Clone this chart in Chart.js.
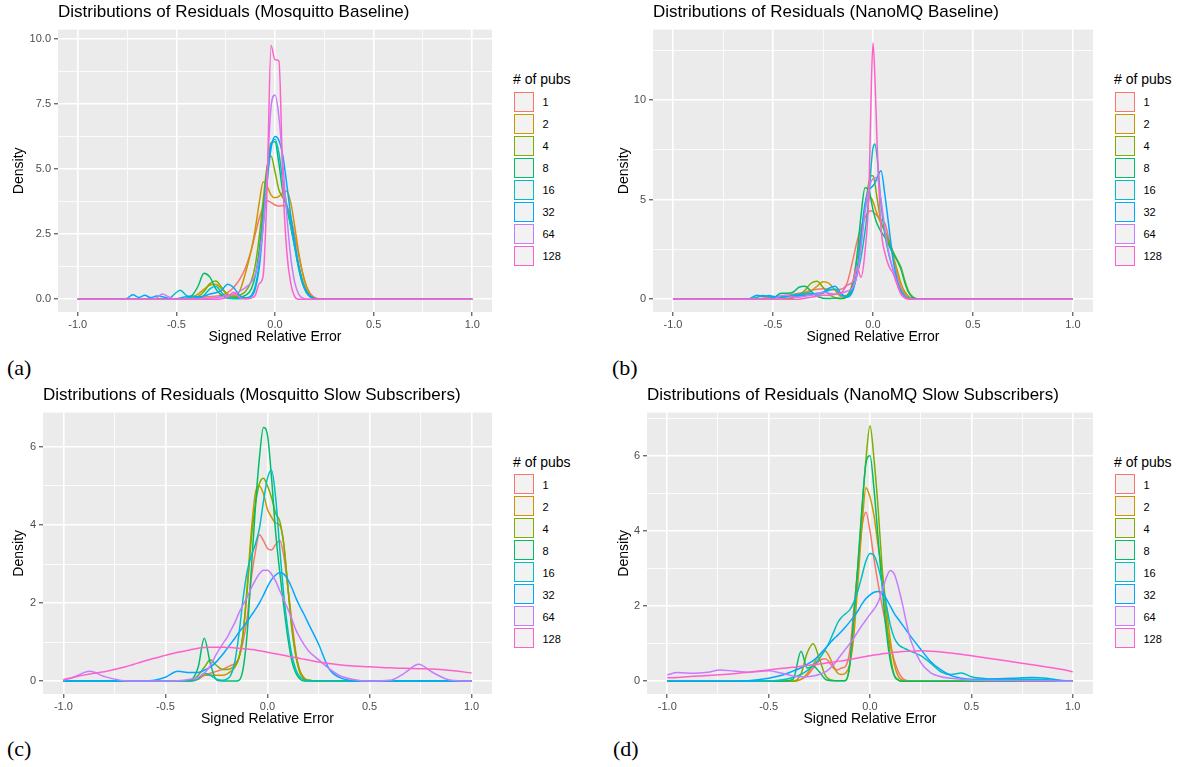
<!DOCTYPE html>
<html>
<head>
<meta charset="utf-8">
<script src="https://cdn.jsdelivr.net/npm/chart.js@4.4.1/dist/chart.umd.min.js"></script>
<style>
  body { margin: 0; background: #fff; font-family: "Liberation Sans", Arial, sans-serif; }
  #page { position: relative; width: 1180px; height: 767px; overflow: hidden; }
  canvas { position: absolute; }
  .ptitle { position: absolute; font-size: 17px; line-height: 20px; color: #000; white-space: nowrap; }
  .ltitle { position: absolute; font-size: 14px; line-height: 16px; color: #000; white-space: nowrap; }
  .key { position: absolute; width: 18px; height: 18px; background: #F2F2F2; border-style: solid; border-width: 1.5px; }
  .klabel { position: absolute; font-size: 11px; line-height: 14px; color: #000; }
  .tag { position: absolute; font-family: "Liberation Serif", "Times New Roman", serif; font-size: 22px; line-height: 26px; color: #000; }
</style>
</head>
<body>
<div id="page"></div>
<script>
// legend entries and ggplot hue colours
const PUBS = ['1', '2', '4', '8', '16', '32', '64', '128'];
const COLORS = ['#F8766D', '#CD9600', '#7CAE00', '#00BE67', '#00BFC4', '#00A9FF', '#C77CFF', '#FF61CC'];

// (a) Mosquitto Baseline
const XA = [-1, -0.76, -0.72, -0.69, -0.66, -0.63, -0.6, -0.57, -0.54, -0.51, -0.48, -0.45, -0.42, -0.39, -0.36, -0.33, -0.3, -0.27, -0.24, -0.21, -0.18, -0.15,
  -0.12, -0.1, -0.08, -0.06, -0.04, -0.02, 0, 0.02, 0.04, 0.06, 0.08, 0.1, 0.12, 0.14, 0.16, 0.18, 0.2, 0.22, 0.25, 1];
const A1 = [0, 0, 0, 0, 0, 0, 0, 0, 0, 0, 0, 0, 0.02, 0.05, 0.08, 0.1, 0.12, 0.15, 0.25, 0.45, 0.75, 1.2,
  1.9, 2.5, 3.1, 3.55, 3.78, 3.72, 3.62, 3.58, 3.6, 3.55, 3.15, 2.45, 1.7, 1.0, 0.5, 0.2, 0.07, 0.02, 0, 0];
const A2 = [0, 0, 0, 0, 0, 0, 0, 0, 0, 0, 0, 0.02, 0.08, 0.2, 0.38, 0.55, 0.58, 0.4, 0.2, 0.15, 0.3, 1.0,
  1.9, 2.7, 3.7, 4.5, 4.35, 4.0, 3.9, 3.95, 4.1, 4.15, 3.7, 2.8, 1.8, 1.0, 0.45, 0.15, 0.05, 0.01, 0, 0];
const A4 = [0, 0, 0, 0, 0, 0, 0, 0, 0, 0, 0, 0, 0, 0.1, 0.3, 0.6, 0.7, 0.45, 0.15, 0.1, 0.15, 0.3,
  0.7, 1.3, 2.4, 3.8, 5.1, 5.5, 4.9, 4.2, 3.9, 3.6, 2.9, 2.1, 1.3, 0.7, 0.3, 0.1, 0.03, 0, 0, 0];
const A8 = [0, 0, 0, 0, 0, 0, 0, 0, 0, 0, 0, 0.02, 0.15, 0.5, 1.0, 0.85, 0.4, 0.15, 0.05, 0.05, 0.08, 0.15,
  0.4, 0.9, 1.9, 3.4, 5.0, 6.0, 6.05, 5.2, 4.1, 3.5, 2.8, 2.0, 1.2, 0.6, 0.25, 0.08, 0.02, 0, 0, 0];
const A16 = [0, 0, 0, 0, 0, 0, 0, 0, 0, 0.2, 0.35, 0.15, 0.05, 0.05, 0.15, 0.4, 0.5, 0.25, 0.05, 0.02, 0.02, 0.05,
  0.15, 0.5, 1.4, 3.0, 4.7, 5.9, 6.15, 5.6, 4.5, 3.6, 2.8, 2.0, 1.2, 0.6, 0.25, 0.1, 0.03, 0, 0, 0];
const A32 = [0, 0, 0.17, 0.07, 0.15, 0.06, 0.12, 0.1, 0.03, 0.02, 0.05, 0.1, 0.12, 0.1, 0.12, 0.2, 0.25, 0.35, 0.58, 0.45, 0.15, 0.05,
  0.1, 0.4, 1.2, 2.8, 4.5, 5.8, 6.25, 6.1, 5.5, 4.4, 3.2, 2.2, 1.3, 0.65, 0.28, 0.1, 0.03, 0.01, 0, 0];
const A64 = [0, 0, 0, 0, 0, 0, 0.05, 0.2, 0.1, 0, 0, 0, 0, 0, 0.02, 0.04, 0.06, 0.1, 0.15, 0.2, 0.3, 0.45,
  0.65, 0.95, 1.6, 2.8, 4.8, 7.4, 7.85, 7.0, 5.2, 3.2, 1.6, 0.65, 0.2, 0.05, 0, 0, 0, 0, 0, 0];
const A128 = [0, 0, 0, 0, 0, 0, 0, 0, 0, 0, 0, 0, 0, 0, 0, 0, 0, 0.02, 0.08, 0.27, 0.06, 0.01,
  0.05, 0.15, 0.6, 0.9, 4.3, 9.75, 9.2, 9.15, 4.5, 1.8, 0.6, 0.1, 0, 0, 0, 0, 0, 0, 0, 0];

// (b) NanoMQ Baseline
const XB = [-1, -0.62, -0.58, -0.55, -0.52, -0.49, -0.46, -0.43, -0.4, -0.37, -0.34, -0.31, -0.28, -0.25, -0.22, -0.19, -0.16, -0.13,
  -0.1, -0.08, -0.06, -0.04, -0.02, -0.01, 0, 0.01, 0.02, 0.04, 0.06, 0.08, 0.1, 0.12, 0.14, 0.16, 0.18, 0.2, 0.22, 0.25, 1];
const B1 = [0, 0, 0.02, 0.05, 0.1, 0.12, 0.15, 0.2, 0.25, 0.3, 0.35, 0.45, 0.5, 0.52, 0.5, 0.48, 0.5, 0.8,
  2.0, 2.9, 3.6, 4.1, 4.4, 4.45, 4.4, 4.3, 4.2, 4.0, 3.8, 3.0, 2.2, 1.3, 0.6, 0.25, 0.08, 0.02, 0, 0, 0];
const B2 = [0, 0, 0, 0, 0, 0, 0, 0.03, 0.08, 0.15, 0.25, 0.4, 0.65, 0.88, 0.8, 0.45, 0.15, 0.2,
  0.9, 2.0, 3.3, 4.5, 5.1, 5.1, 4.9, 4.6, 4.3, 3.8, 3.4, 2.8, 2.2, 1.5, 0.8, 0.35, 0.12, 0.03, 0, 0, 0];
const B4 = [0, 0, 0, 0, 0, 0, 0, 0, 0.05, 0.2, 0.45, 0.8, 0.9, 0.6, 0.25, 0.08, 0.02, 0.1,
  0.5, 1.3, 2.8, 4.6, 5.9, 6.2, 6.2, 5.8, 5.1, 3.9, 3.4, 2.9, 2.4, 2.0, 1.6, 0.9, 0.35, 0.1, 0.02, 0, 0];
const B8 = [0, 0, 0, 0, 0, 0.1, 0.3, 0.3, 0.35, 0.6, 0.65, 0.4, 0.15, 0.05, 0.03, 0.05, 0.05, 0.15,
  0.8, 2.2, 4.2, 5.6, 5.5, 5.0, 4.5, 4.1, 3.8, 3.4, 3.1, 2.7, 2.3, 1.95, 1.5, 0.8, 0.3, 0.08, 0.02, 0, 0];
const B16 = [0, 0, 0.1, 0.18, 0.12, 0.08, 0.1, 0.15, 0.2, 0.25, 0.28, 0.3, 0.25, 0.3, 0.45, 0.5, 0.2, 0.15,
  0.6, 1.2, 2.1, 3.4, 5.2, 6.6, 7.6, 7.8, 7.2, 4.8, 3.2, 2.2, 1.5, 0.9, 0.45, 0.15, 0.05, 0.01, 0, 0, 0];
const B32 = [0, 0.02, 0.2, 0.15, 0.18, 0.12, 0.1, 0.12, 0.15, 0.2, 0.2, 0.22, 0.3, 0.35, 0.55, 0.65, 0.3, 0.1,
  0.45, 1.4, 3.2, 4.8, 5.5, 5.6, 5.7, 5.85, 6.1, 6.45, 5.2, 3.6, 2.0, 1.0, 0.35, 0.1, 0.02, 0, 0, 0, 0];
const B64 = [0, 0, 0, 0, 0, 0.02, 0.18, 0.2, 0.1, 0.1, 0.15, 0.2, 0.25, 0.35, 0.3, 0.25, 0.3, 0.4,
  0.6, 1.2, 2.6, 4.4, 5.6, 5.9, 6.05, 6.1, 6.1, 5.0, 3.5, 2.3, 1.5, 0.8, 0.3, 0.08, 0.02, 0, 0, 0, 0];
const B128 = [0, 0, 0, 0, 0, 0, 0, 0, 0, 0, 0.05, 0.1, 0.15, 0.2, 0.2, 0.25, 0.3, 0.7,
  0.9, 1.6, 1.1, 2.4, 5.5, 10.0, 12.9, 11.0, 8.0, 3.6, 2.3, 1.65, 1.3, 0.75, 0.25, 0.05, 0, 0, 0, 0, 0];

// (c) Mosquitto Slow Subscribers
const XC = [-1, -0.95, -0.87, -0.8, -0.7, -0.6, -0.5, -0.44, -0.38, -0.34, -0.31, -0.28, -0.25, -0.22, -0.2, -0.18, -0.16, -0.14,
  -0.12, -0.1, -0.08, -0.06, -0.04, -0.02, 0, 0.02, 0.04, 0.06, 0.08, 0.1, 0.12, 0.14, 0.16, 0.18, 0.2,
  0.25, 0.3, 0.35, 0.42, 0.5, 0.6, 0.67, 0.74, 0.81, 0.9, 1];
const C1 = [0, 0, 0, 0, 0, 0, 0, 0, 0, 0.05, 0.15, 0.2, 0.25, 0.3, 0.35, 0.4, 0.45, 0.6,
  1.0, 1.6, 2.6, 3.3, 3.75, 3.6, 3.4, 3.36, 3.5, 3.6, 3.2, 2.4, 1.5, 0.7, 0.22, 0.06, 0.02,
  0, 0, 0, 0, 0, 0, 0, 0, 0, 0, 0];
const C2 = [0, 0, 0, 0, 0, 0, 0, 0, 0, 0.05, 0.15, 0.15, 0.15, 0.15, 0.18, 0.25, 0.35, 0.6,
  1.2, 2.4, 3.8, 4.8, 5.0, 4.8, 4.4, 4.2, 4.05, 4.0, 3.5, 2.4, 1.4, 0.65, 0.25, 0.08, 0.02,
  0, 0, 0, 0, 0, 0, 0, 0, 0, 0, 0];
const C4 = [0, 0, 0, 0, 0, 0, 0, 0, 0, 0.15, 0.35, 0.55, 0.4, 0.3, 0.3, 0.32, 0.4, 0.6,
  1.2, 2.3, 3.6, 4.5, 5.05, 5.2, 5.0, 4.7, 4.3, 4.1, 3.5, 2.4, 1.3, 0.6, 0.2, 0.06, 0.02,
  0, 0, 0, 0, 0, 0, 0, 0, 0, 0, 0];
const C8 = [0, 0, 0, 0, 0, 0, 0, 0, 0.02, 0.35, 1.1, 0.45, 0.03, 0, 0, 0, 0, 0.02,
  0.3, 1.2, 2.8, 4.4, 5.7, 6.5, 6.3, 5.2, 3.8, 2.8, 1.9, 1.1, 0.5, 0.2, 0.05, 0, 0,
  0, 0, 0, 0, 0, 0, 0, 0, 0, 0, 0];
const C16 = [0, 0, 0, 0, 0, 0, 0, 0, 0, 0.05, 0.2, 0.15, 0.05, 0.02, 0.05, 0.15, 0.5, 1.2,
  2.1, 2.8, 3.2, 3.5, 3.9, 4.6, 5.2, 5.4, 4.7, 3.4, 2.2, 1.3, 0.65, 0.28, 0.1, 0.03, 0,
  0, 0, 0, 0, 0, 0, 0, 0, 0, 0, 0];
const C32 = [0, 0, 0, 0, 0, 0, 0.1, 0.25, 0.22, 0.22, 0.28, 0.36, 0.5, 0.68, 0.82, 0.96, 1.1, 1.25,
  1.38, 1.52, 1.68, 1.83, 2.0, 2.2, 2.42, 2.6, 2.72, 2.78, 2.74, 2.6, 2.38, 2.12, 1.9, 1.7, 1.48,
  0.95, 0.33, 0.1, 0.01, 0, 0, 0, 0, 0, 0, 0];
const C64 = [0.02, 0.1, 0.25, 0.12, 0.01, 0, 0, 0.01, 0.05, 0.1, 0.2, 0.4, 0.7, 0.95, 1.1, 1.3, 1.5, 1.75,
  1.95, 2.15, 2.38, 2.58, 2.75, 2.84, 2.84, 2.74, 2.56, 2.32, 2.08, 1.84, 1.58, 1.3, 1.1, 0.93, 0.78,
  0.55, 0.33, 0.15, 0.04, 0, 0.02, 0.2, 0.43, 0.22, 0.02, 0];
const C128 = [0.04, 0.1, 0.18, 0.24, 0.36, 0.52, 0.66, 0.74, 0.8, 0.84, 0.86, 0.87, 0.87, 0.87, 0.86, 0.86, 0.85, 0.84,
  0.83, 0.82, 0.81, 0.8, 0.78, 0.76, 0.74, 0.72, 0.7, 0.68, 0.66, 0.64, 0.62, 0.6, 0.58, 0.56, 0.54,
  0.49, 0.45, 0.42, 0.39, 0.37, 0.34, 0.33, 0.32, 0.31, 0.27, 0.21];

// (d) NanoMQ Slow Subscribers
const XD = [-1, -0.95, -0.87, -0.8, -0.74, -0.67, -0.6, -0.5, -0.44, -0.38, -0.34, -0.31, -0.28, -0.25, -0.22, -0.2, -0.18, -0.16, -0.14,
  -0.12, -0.1, -0.08, -0.06, -0.04, -0.02, 0, 0.02, 0.04, 0.06, 0.08, 0.1, 0.12, 0.14, 0.16, 0.18, 0.2,
  0.25, 0.3, 0.35, 0.4, 0.45, 0.5, 0.6, 0.7, 0.8, 0.87, 0.95, 1];
const D1 = [0, 0, 0, 0, 0, 0, 0, 0, 0, 0, 0.05, 0.15, 0.35, 0.55, 0.6, 0.5, 0.35, 0.3, 0.35,
  0.4, 0.8, 1.9, 3.0, 4.1, 4.5, 4.0, 3.25, 2.6, 2.0, 1.45, 0.95, 0.55, 0.25, 0.08, 0.02, 0,
  0, 0, 0, 0, 0, 0, 0, 0, 0, 0, 0, 0];
const D2 = [0, 0, 0, 0, 0, 0, 0, 0, 0, 0, 0.05, 0.2, 0.45, 0.7, 0.8, 0.65, 0.4, 0.22, 0.18,
  0.22, 0.45, 1.2, 2.6, 4.1, 5.15, 4.9, 4.4, 3.6, 2.9, 2.0, 1.1, 0.45, 0.12, 0.03, 0, 0,
  0, 0, 0, 0, 0, 0, 0, 0, 0, 0, 0, 0];
const D4 = [0, 0, 0, 0, 0, 0, 0, 0, 0, 0, 0.2, 0.75, 1.0, 0.6, 0.15, 0.05, 0.02, 0.01, 0.01,
  0.02, 0.4, 1.6, 3.0, 4.5, 5.9, 6.8, 5.9, 4.6, 3.0, 1.7, 0.7, 0.15, 0.03, 0, 0, 0,
  0, 0, 0, 0, 0, 0, 0, 0, 0, 0, 0, 0];
const D8 = [0, 0, 0, 0, 0, 0, 0, 0, 0, 0.05, 0.8, 0.35, 0.4, 0.25, 0.05, 0.02, 0.01, 0.01, 0.01,
  0.02, 0.45, 1.7, 3.1, 4.6, 5.8, 6.0, 5.1, 3.8, 2.5, 1.35, 0.55, 0.15, 0.03, 0, 0, 0,
  0, 0, 0, 0, 0, 0, 0, 0, 0, 0, 0, 0];
const D16 = [0, 0, 0, 0, 0, 0, 0, 0, 0.03, 0.1, 0.18, 0.28, 0.42, 0.6, 0.85, 1.05, 1.3, 1.55, 1.7,
  1.8, 1.9, 2.1, 2.4, 2.8, 3.2, 3.4, 3.35, 3.05, 2.6, 2.05, 1.5, 1.15, 0.98, 0.9, 0.85, 0.8,
  0.68, 0.48, 0.25, 0.18, 0.22, 0.12, 0.06, 0.05, 0.05, 0.04, 0.01, 0];
const D32 = [0, 0, 0, 0, 0, 0, 0.01, 0.08, 0.15, 0.27, 0.36, 0.45, 0.55, 0.7, 0.88, 1.0, 1.12, 1.22, 1.33,
  1.45, 1.58, 1.72, 1.87, 2.05, 2.2, 2.3, 2.37, 2.39, 2.35, 2.2, 2.0, 1.8, 1.65, 1.5, 1.35, 1.2,
  0.85, 0.52, 0.3, 0.15, 0.08, 0.05, 0.06, 0.08, 0.1, 0.08, 0.02, 0];
const D64 = [0.17, 0.23, 0.21, 0.24, 0.3, 0.27, 0.24, 0.28, 0.22, 0.14, 0.12, 0.12, 0.14, 0.18, 0.25, 0.33, 0.44, 0.58, 0.72,
  0.86, 1.0, 1.15, 1.32, 1.48, 1.63, 1.78, 1.92, 2.1, 2.4, 2.75, 2.95, 2.85, 2.5, 2.05, 1.55, 1.1,
  0.5, 0.22, 0.12, 0.08, 0.05, 0.03, 0.02, 0.02, 0.01, 0.01, 0, 0];
const D128 = [0.09, 0.1, 0.13, 0.15, 0.17, 0.2, 0.24, 0.3, 0.34, 0.37, 0.4, 0.42, 0.44, 0.46, 0.48, 0.5, 0.51, 0.53, 0.54,
  0.56, 0.58, 0.6, 0.62, 0.64, 0.66, 0.68, 0.7, 0.71, 0.73, 0.74, 0.76, 0.77, 0.78, 0.79, 0.8, 0.8,
  0.81, 0.8, 0.78, 0.75, 0.72, 0.68, 0.6, 0.52, 0.44, 0.38, 0.31, 0.25];

const FONT = '"Liberation Sans", Arial, sans-serif';
Chart.defaults.font.family = FONT;

// panel layout: L/R/T/B = grey plot area in page pixels, cx = canvas left
const panels = [
  { title: 'Distributions of Residuals (Mosquitto Baseline)', tag: '(a)', xs: XA, series: [A1, A2, A4, A8, A16, A32, A64, A128],
    cx: 0, L: 58, R: 492, T: 28, B: 312, yMin: -0.49, yMax: 10.36, yStep: 1.25, yMajor: 2.5, yDec: 1, densX: 19.5, tagX: 7, tagY: 368 },
  { title: 'Distributions of Residuals (NanoMQ Baseline)', tag: '(b)', xs: XB, series: [B1, B2, B4, B8, B16, B32, B64, B128],
    cx: 600, L: 653, R: 1093, T: 28, B: 312, yMin: -0.645, yMax: 13.55, yStep: 2.5, yMajor: 5, yDec: 0, densX: 624, tagX: 612, tagY: 368 },
  { title: 'Distributions of Residuals (Mosquitto Slow Subscribers)', tag: '(c)', xs: XC, series: [C1, C2, C4, C8, C16, C32, C64, C128],
    cx: 0, L: 43, R: 492, T: 411, B: 694, yMin: -0.33, yMax: 6.88, yStep: 1, yMajor: 2, yDec: 0, densX: 19.5, tagX: 7, tagY: 749 },
  { title: 'Distributions of Residuals (NanoMQ Slow Subscribers)', tag: '(d)', xs: XD, series: [D1, D2, D4, D8, D16, D32, D64, D128],
    cx: 600, L: 647, R: 1093, T: 411, B: 694, yMin: -0.34, yMax: 7.15, yStep: 1, yMajor: 2, yDec: 0, densX: 624, tagX: 613, tagY: 749 }
];

const page = document.getElementById('page');

function isMajor(v, major) {
  return Math.abs(v / major - Math.round(v / major)) < 1e-6;
}

function addDiv(cls, text, left, top, extra) {
  const d = document.createElement('div');
  d.className = cls;
  d.textContent = text;
  d.style.left = left + 'px';
  d.style.top = top + 'px';
  if (extra) Object.assign(d.style, extra);
  page.appendChild(d);
  return d;
}

// grey panel background, drawn under the grid
const panelBg = {
  id: 'panelBg',
  beforeDraw(chart) {
    const { ctx, chartArea: a } = chart;
    ctx.save();
    ctx.fillStyle = '#EBEBEB';
    ctx.fillRect(a.left, a.top, a.right - a.left, a.bottom - a.top);
    ctx.restore();
  }
};

panels.forEach(p => {
  const padTop = 8, padRight = 6, xAxisH = 40;
  const canvas = document.createElement('canvas');
  canvas.width = p.R + padRight - p.cx;
  canvas.height = p.B - p.T + padTop + xAxisH;
  canvas.style.left = p.cx + 'px';
  canvas.style.top = (p.T - padTop) + 'px';
  page.appendChild(canvas);

  new Chart(canvas, {
    type: 'line',
    data: {
      datasets: p.series.map((ys, i) => ({
        label: PUBS[i],
        data: p.xs.map((x, j) => ({ x: x, y: ys[j] })),
        borderColor: COLORS[i],
        borderWidth: 1.5,
        pointRadius: 0,
        fill: false,
        cubicInterpolationMode: 'monotone',
        order: PUBS.length - i
      }))
    },
    options: {
      responsive: false,
      animation: false,
      devicePixelRatio: 1,
      events: [],
      layout: { padding: { top: padTop, right: padRight, left: 0, bottom: 0 } },
      plugins: { legend: { display: false }, tooltip: { enabled: false }, title: { display: false } },
      scales: {
        x: {
          type: 'linear',
          min: -1.1,
          max: 1.1,
          ticks: {
            stepSize: 0.25, includeBounds: false, autoSkip: false, maxRotation: 0, padding: 2,
            color: '#4D4D4D', font: { size: 11 },
            callback: v => isMajor(v, 0.5) ? v.toFixed(1) : ''
          },
          grid: {
            color: '#FFFFFF',
            lineWidth: c => (c.tick && isMajor(c.tick.value, 0.5)) ? 1.6 : 0.8,
            tickColor: c => (c.tick && isMajor(c.tick.value, 0.5)) ? '#333333' : 'rgba(0,0,0,0)',
            tickLength: 4,
            tickWidth: 1
          },
          border: { display: false },
          title: { display: true, text: 'Signed Relative Error', color: '#000', font: { size: 14 }, padding: { top: 0, bottom: 6.5 } },
          afterFit: s => { s.height = xAxisH; }
        },
        y: {
          min: p.yMin,
          max: p.yMax,
          ticks: {
            stepSize: p.yStep, includeBounds: false, autoSkip: false, padding: 3,
            color: '#4D4D4D', font: { size: 11 },
            callback: v => isMajor(v, p.yMajor) ? v.toFixed(p.yDec) : ''
          },
          grid: {
            color: '#FFFFFF',
            lineWidth: c => (c.tick && isMajor(c.tick.value, p.yMajor)) ? 1.6 : 0.8,
            tickColor: c => (c.tick && isMajor(c.tick.value, p.yMajor)) ? '#333333' : 'rgba(0,0,0,0)',
            tickLength: 4,
            tickWidth: 1
          },
          border: { display: false },
          title: { display: true, text: 'Density', color: '#000', font: { size: 14 }, padding: { top: p.densX - p.cx - 8.4, bottom: 0 } },
          afterFit: s => { s.width = p.L - p.cx; }
        }
      }
    },
    plugins: [panelBg]
  });

  // plot title, aligned with the panel
  addDiv('ptitle', p.title, p.L, p.T - 26);

  // legend: "# of pubs" with outlined keys
  const lx = p.R + 21;
  const ly = (p.T + p.B) / 2 - 91;
  addDiv('ltitle', '# of pubs', lx, ly - 8);
  PUBS.forEach((lab, i) => {
    const top = ly + 12.7 + 22 * i;
    addDiv('key', '', lx + 0.5, top, { borderColor: COLORS[i] });
    addDiv('klabel', lab, lx + 29.5, top + 3.5);
  });

  addDiv('tag', p.tag, p.tagX, p.tagY - 13);
});
</script>
</body>
</html>
